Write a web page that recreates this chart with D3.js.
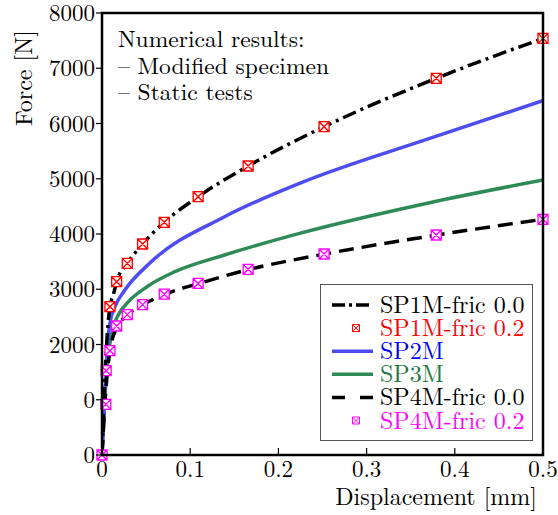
<!DOCTYPE html>
<html><head><meta charset="utf-8">
<script src="https://cdn.jsdelivr.net/npm/d3@7"></script>
<style>body{margin:0;background:#fff}svg{display:block}</style>
</head><body><svg id="c" width="558" height="515"></svg>
<script>
// ---- data ----
const xTicks = [0, 0.1, 0.2, 0.3, 0.4, 0.5];
const xTickLabels = ["0", "0.1", "0.2", "0.3", "0.4", "0.5"];
const yTicks = [0, 1000, 2000, 3000, 4000, 5000, 6000, 7000, 8000];
const yTickLabels = ["0", "0", "2000", "3000", "4000", "5000", "6000", "7000", "8000"];

const sp1mX = [0, 0.003, 0.006, 0.009, 0.0128, 0.0166, 0.0287, 0.046, 0.0706, 0.109, 0.1657, 0.2518, 0.379, 0.5];
const sp1mY = [0, 1300, 2200, 2684, 2896, 3137, 3469, 3819, 4212, 4675, 5231, 5942, 6818, 7540];
const sp1mMarkX = [0.009, 0.0166, 0.0287, 0.046, 0.0706, 0.109, 0.1657, 0.2518, 0.379, 0.5];
const sp1mMarkY = [2684, 3137, 3469, 3819, 4212, 4675, 5231, 5942, 6818, 7540];

const sp2mX = [0, 0.002, 0.004, 0.0064, 0.009, 0.0147, 0.026, 0.054, 0.139, 0.224, 0.3715, 0.5];
const sp2mY = [0, 650, 1350, 2027, 2389, 2684, 2986, 3470, 4313, 4917, 5731, 6413];

const sp3mX = [0, 0.0026, 0.0053, 0.009, 0.0128, 0.0185, 0.03, 0.051, 0.0827, 0.139, 0.224, 0.3715, 0.5];
const sp3mY = [0, 874, 1479, 2021, 2322, 2534, 2775, 3046, 3318, 3620, 4012, 4567, 4977];

const sp4mX = [0, 0.0045, 0.009, 0.0166, 0.0287, 0.046, 0.0706, 0.109, 0.1657, 0.2518, 0.379, 0.5];
const sp4mY = [0, 1200, 1888, 2300, 2530, 2715, 2905, 3100, 3355, 3635, 3980, 4266];
const sp4mMarkX = [0, 0.0043, 0.0047, 0.009, 0.0166, 0.0287, 0.046, 0.0706, 0.109, 0.1657, 0.2518, 0.379, 0.5];
const sp4mMarkY = [0, 917, 1526, 1888, 2335, 2540, 2721, 2910, 3105, 3361, 3638, 3982, 4266];

const legendLabels = ["SP1M-fric 0.0", "SP1M-fric 0.2", "SP2M", "SP3M", "SP4M-fric 0.0", "SP4M-fric 0.2"];
const noteLines = ["Numerical results:", "\u2013 Modified specimen", "\u2013 Static tests"];

// ---- layout ----
const FONT = '"Latin Modern Roman", "Liberation Serif", serif';
const svg = d3.select("#c");
const L = 102, R = 543, T = 13, B = 455;
const x = d3.scaleLinear().domain([0, 0.5]).range([L, R]);
const y = d3.scaleLinear().domain([0, 8000]).range([B, T]);

const zip = (a, b) => a.map((v, i) => [v, b[i]]);
const line = d3.line().x(d => x(d[0])).y(d => y(d[1])).curve(d3.curveMonotoneX);

svg.append("clipPath").attr("id", "pc").append("rect")
  .attr("x", L).attr("y", T).attr("width", R - L).attr("height", B - T);

const g = svg.append("g").attr("clip-path", "url(#pc)");

g.append("path").attr("d", line(zip(sp3mX, sp3mY))).attr("fill", "none")
  .attr("stroke", "#2e8b57").attr("stroke-width", 3.5);
g.append("path").attr("d", line(zip(sp2mX, sp2mY))).attr("fill", "none")
  .attr("stroke", "#4d4df2").attr("stroke-width", 3.5);
g.append("path").attr("d", line(zip(sp4mX, sp4mY))).attr("fill", "none")
  .attr("stroke", "#000").attr("stroke-width", 3.5).attr("stroke-dasharray", "15,8");
g.append("path").attr("d", line(zip(sp1mX, sp1mY))).attr("fill", "none")
  .attr("stroke", "#000").attr("stroke-width", 3.5).attr("stroke-dasharray", "14,5,3,5");

function markerPath(cx, cy, s) {
  const h = s / 2;
  return `M${cx - h},${cy - h}H${cx + h}V${cy + h}H${cx - h}Z` +
    `M${cx - h},${cy - h}L${cx + h},${cy + h}M${cx + h},${cy - h}L${cx - h},${cy + h}`;
}
const mg = svg.append("g");
function drawMarkers(xs, ys, color, fill) {
  mg.selectAll(null).data(zip(xs, ys)).enter().append("path")
    .attr("d", d => markerPath(x(d[0]), y(d[1]), 10))
    .attr("fill", fill).attr("stroke", color).attr("stroke-width", 1.3);
}
drawMarkers(sp1mMarkX, sp1mMarkY, "#ff0000", "#fff0f0");
drawMarkers(sp4mMarkX, sp4mMarkY, "#ff00ff", "#fff0ff");

// frame
svg.append("rect").attr("x", L).attr("y", T).attr("width", R - L).attr("height", B - T)
  .attr("fill", "none").attr("stroke", "#000").attr("stroke-width", 2.5);

// x ticks (inside)
svg.append("g").selectAll(null).data(xTicks.slice(1, -1)).enter().append("line")
  .attr("x1", d => x(d)).attr("x2", d => x(d)).attr("y1", B).attr("y2", B - 7)
  .attr("stroke", "#000").attr("stroke-width", 1.2);
svg.append("g").selectAll(null).data(xTicks).enter().append("text")
  .attr("x", d => x(d)).attr("y", 477).attr("text-anchor", "middle")
  .style("font-family", FONT).style("font-size", "23px").text((d, i) => xTickLabels[i]);

// y ticks (outside)
svg.append("g").selectAll(null).data(yTicks).enter().append("line")
  .attr("x1", L - 6).attr("x2", L).attr("y1", d => y(d)).attr("y2", d => y(d))
  .attr("stroke", "#000").attr("stroke-width", 1.2);
svg.append("g").selectAll(null).data(yTicks).enter().append("text")
  .attr("x", 95).attr("y", d => y(d) + 8).attr("text-anchor", "end")
  .style("font-family", FONT).style("font-size", "23px").text((d, i) => yTickLabels[i]);

// axis labels
svg.append("text").attr("x", 537).attr("y", 505).attr("text-anchor", "end")
  .style("font-family", FONT).style("font-size", "24px").text("Displacement [mm]");
svg.append("text").attr("transform", "translate(32,78) rotate(-90)").attr("text-anchor", "middle")
  .style("font-family", FONT).style("font-size", "24px").text("Force [N]");

// note
svg.append("g").selectAll(null).data(noteLines).enter().append("text")
  .attr("x", 118).attr("y", (d, i) => 47 + i * 26.5)
  .style("font-family", FONT).style("font-size", "23.5px").text(d => d);

// legend
svg.append("rect").attr("x", 320.5).attr("y", 284.5).attr("width", 212).attr("height", 156)
  .attr("fill", "#fff").attr("stroke", "#555").attr("stroke-width", 1);
const lg = svg.append("g");
const rowY = i => 305 + i * 23.1;
const textColors = ["#000", "#ff0000", "#0000ff", "#1e7a40", "#000", "#ff00ff"];
legendLabels.forEach((lab, i) => {
  const cy = rowY(i);
  if (i === 0) lg.append("line").attr("x1", 332).attr("x2", 373).attr("y1", cy).attr("y2", cy)
    .attr("stroke", "#000").attr("stroke-width", 3.5).attr("stroke-dasharray", "13,4,3,4");
  if (i === 2) lg.append("line").attr("x1", 332).attr("x2", 373).attr("y1", cy).attr("y2", cy)
    .attr("stroke", "#4d4df2").attr("stroke-width", 3.5);
  if (i === 3) lg.append("line").attr("x1", 332).attr("x2", 373).attr("y1", cy).attr("y2", cy)
    .attr("stroke", "#2e8b57").attr("stroke-width", 3.5);
  if (i === 4) lg.append("line").attr("x1", 332).attr("x2", 373).attr("y1", cy).attr("y2", cy)
    .attr("stroke", "#000").attr("stroke-width", 3.5).attr("stroke-dasharray", "13,15");
  if (i === 1 || i === 5) lg.append("path").attr("d", markerPath(356, cy, 7))
    .attr("fill", "#fff").attr("stroke", textColors[i]).attr("stroke-width", 1);
  lg.append("text").attr("x", 380).attr("y", cy + 8)
    .style("font-family", FONT).style("font-size", "24px")
    .attr("fill", textColors[i]).text(lab);
});
</script></body></html>
